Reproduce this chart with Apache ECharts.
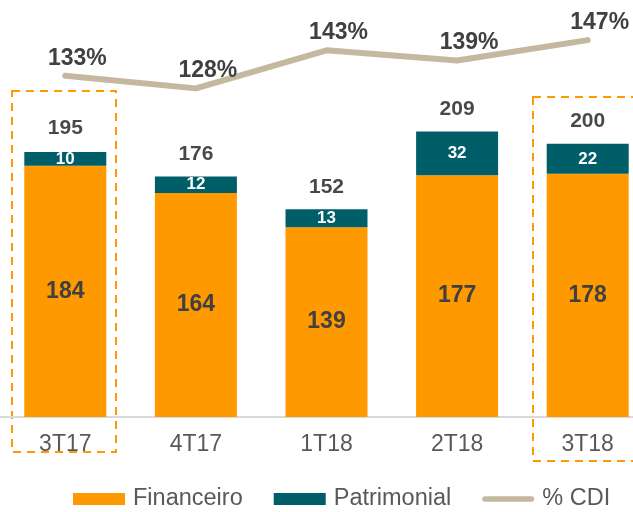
<!DOCTYPE html>
<html>
<head>
<meta charset="utf-8">
<script src="https://cdn.jsdelivr.net/npm/echarts@6/dist/echarts.min.js"></script>
<style>html,body{margin:0;padding:0;background:#fff;overflow:hidden;width:633px;height:512px}#c{width:653px;height:512px}</style>
</head>
<body>
<div id="c"></div>
<script>
var categories = ['3T17', '4T17', '1T18', '2T18', '3T18'];
var financeiro = [184, 164, 139, 177, 178];
var patrimonial = [10, 12, 13, 32, 22];
var totals = [195, 176, 152, 209, 200];
var cdi = [133, 128, 143, 139, 147];

var FONT = '"Liberation Sans", Arial, sans-serif';
var chart = echarts.init(document.getElementById('c'));
chart.setOption({
  animation: false,
  textStyle: { fontFamily: FONT },
  grid: [
    { left: 0, right: 0, top: 7.2, height: 409.8 },
    { left: 0, right: 0, top: 32.5, height: 76.2 }
  ],
  xAxis: [
    { type: 'category', gridIndex: 0, data: categories,
      axisLine: { lineStyle: { color: '#D9D9D9', width: 2 } },
      axisTick: { show: false },
      axisLabel: { color: '#595959', fontSize: 23, margin: 16, fontFamily: FONT } },
    { type: 'category', gridIndex: 1, data: categories, show: false }
  ],
  yAxis: [
    { type: 'value', gridIndex: 0, min: 0, max: 300, show: false, splitLine: { show: false } },
    { type: 'value', gridIndex: 1, min: 120, max: 150, show: false, splitLine: { show: false } }
  ],
  legend: {
    top: 482, left: 68, itemGap: 31, itemWidth: 52, itemHeight: 12,
    textStyle: { color: '#595959', fontSize: 23.5, fontFamily: FONT, padding: [0, 0, 0, 3] },
    data: [
      { name: 'Financeiro', icon: 'rect' },
      { name: 'Patrimonial', icon: 'rect' },
      { name: '% CDI', icon: 'path://M3,0 L55,0 A3,3 0 0 1 55,6 L3,6 A3,3 0 0 1 3,0 Z' }
    ]
  },
  series: [
    { name: 'Financeiro', type: 'bar', stack: 'a', barWidth: 82, data: financeiro,
      itemStyle: { color: '#FF9900' },
      label: { show: true, position: 'inside', color: '#404040', fontSize: 23, fontWeight: 'bold', fontFamily: FONT } },
    { name: 'Patrimonial', type: 'bar', stack: 'a', barWidth: 82, data: patrimonial,
      itemStyle: { color: '#005E69' },
      label: { show: true, position: 'inside', color: '#ffffff', fontSize: 17, fontWeight: 'bold', fontFamily: FONT } },
    { name: 'Total', type: 'scatter', data: totals, symbolSize: 0, silent: true,
      label: { show: true, position: 'top', distance: 12, color: '#1a1a1a', fontSize: 21, fontWeight: 'bold', fontFamily: FONT, formatter: '{c}' } },
    { name: '% CDI', type: 'line', xAxisIndex: 1, yAxisIndex: 1, data: cdi,
      symbol: 'circle', symbolSize: 0, showSymbol: true,
      lineStyle: { color: '#C4B89E', width: 6, cap: 'round' },
      itemStyle: { color: '#C4B89E' },
      label: { show: true, position: 'top', distance: 6, offset: [12, 0], color: '#404040', fontSize: 23, fontWeight: 'bold', fontFamily: FONT, formatter: '{c}%' } }
  ],
  graphic: [
    { type: 'rect', shape: { x: 12, y: 91, width: 104, height: 361 },
      style: { fill: 'none', stroke: '#FF9900', lineWidth: 2, lineDash: [8, 6] } },
    { type: 'rect', shape: { x: 533, y: 97, width: 130, height: 364 },
      style: { fill: 'none', stroke: '#FF9900', lineWidth: 2, lineDash: [8, 6] } }
  ]
});
</script>
</body>
</html>
